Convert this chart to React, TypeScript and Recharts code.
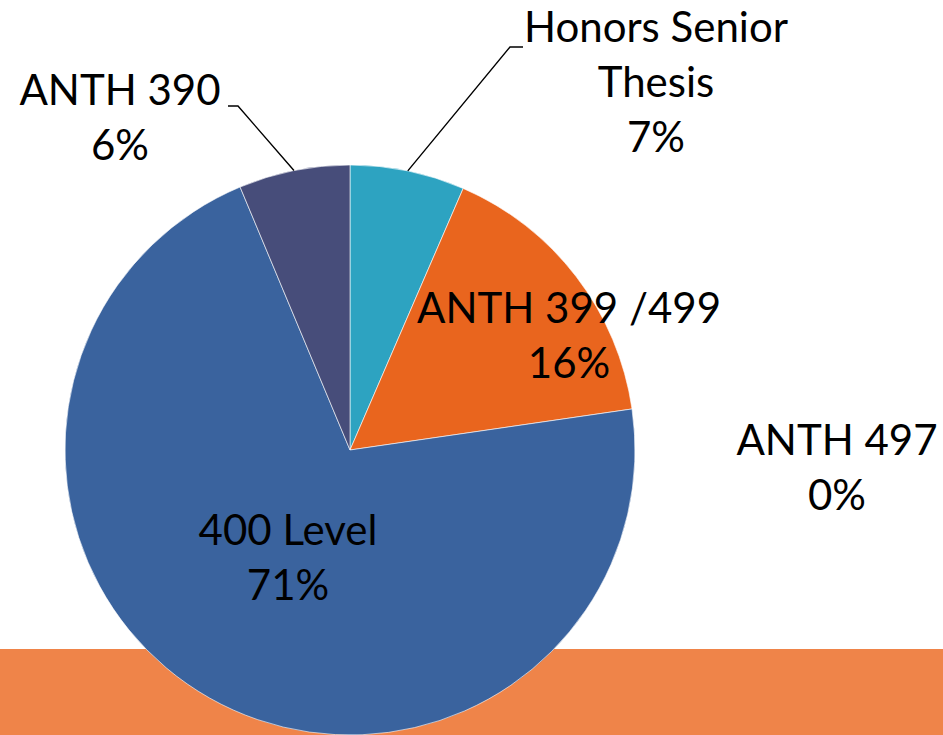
import React from "react";
import { PieChart, Pie, Cell } from "recharts";

const categories = ["Honors Senior Thesis", "ANTH 399 /499", "ANTH 497", "400 Level", "ANTH 390"];
const shares = [6.5, 16.2, 0, 71, 6.3];
const colors = ["#2DA3C1", "#E9651E", "#D9D9D9", "#3A639E", "#474D7A"];

const data = categories.map((name, i) => ({ name, value: shares[i] }));

const FONT = "Lato, 'DejaVu Sans', sans-serif";
const FONT_SIZE = 42;
const LINE_H = 55;

type LabelLayout = {
  lines: string[];
  x: number;
  y: number;
  leader?: [number, number][];
};

const labelLayout: Record<string, LabelLayout> = {
  "Honors Senior Thesis": { lines: ["Honors Senior", "Thesis"], x: 656, y: 42, leader: [[510, 47], [523, 47]] },
  "ANTH 399 /499": { lines: ["ANTH 399 /499"], x: 569, y: 323 },
  "ANTH 497": { lines: ["ANTH 497"], x: 837, y: 455 },
  "400 Level": { lines: ["400 Level"], x: 288, y: 545 },
  "ANTH 390": { lines: ["ANTH 390"], x: 120, y: 105, leader: [[238, 106], [228, 106]] },
};

const RADIAN = Math.PI / 180;

const renderLabel = (props: any) => {
  const { cx, cy, midAngle, outerRadius, name, percent } = props;
  const layout = labelLayout[name];
  if (!layout) return null;
  const pct = `${Math.round((percent ?? 0) * 100)}%`;
  const lines = [...layout.lines, pct];
  let path: string | null = null;
  if (layout.leader) {
    const sx = cx + outerRadius * Math.cos(-midAngle * RADIAN);
    const sy = cy + outerRadius * Math.sin(-midAngle * RADIAN);
    path = `M${sx},${sy}` + layout.leader.map(([x, y]) => `L${x},${y}`).join("");
  }
  return (
    <g key={`lbl-${name}`}>
      {path && <path d={path} stroke="#000" strokeWidth={1.4} fill="none" />}
      <text
        x={layout.x}
        y={layout.y}
        textAnchor="middle"
        fontFamily={FONT}
        fontSize={FONT_SIZE}
        fill="#000"
      >
        {lines.map((l, i) => (
          <tspan key={i} x={layout.x} y={layout.y + i * LINE_H}>
            {l}
          </tspan>
        ))}
      </text>
    </g>
  );
};

export default function App() {
  return (
    <div
      style={{
        position: "absolute",
        top: 0,
        left: 0,
        width: 943,
        height: 735,
        overflow: "hidden",
        background: "linear-gradient(to bottom, #ffffff 0px, #ffffff 649px, #EF8449 649px, #EF8449 735px)",
      }}
    >
      <PieChart width={943} height={735} margin={{ top: 0, right: 0, bottom: 0, left: 0 }}>
        <Pie
          data={data}
          dataKey="value"
          nameKey="name"
          cx={350}
          cy={450}
          outerRadius={285}
          startAngle={90}
          endAngle={-270}
          stroke="#ffffff"
          strokeWidth={0.6}
          label={renderLabel}
          labelLine={false}
          isAnimationActive={false}
        >
          {data.map((d, i) => (
            <Cell key={d.name} fill={colors[i]} />
          ))}
        </Pie>
      </PieChart>
    </div>
  );
}
